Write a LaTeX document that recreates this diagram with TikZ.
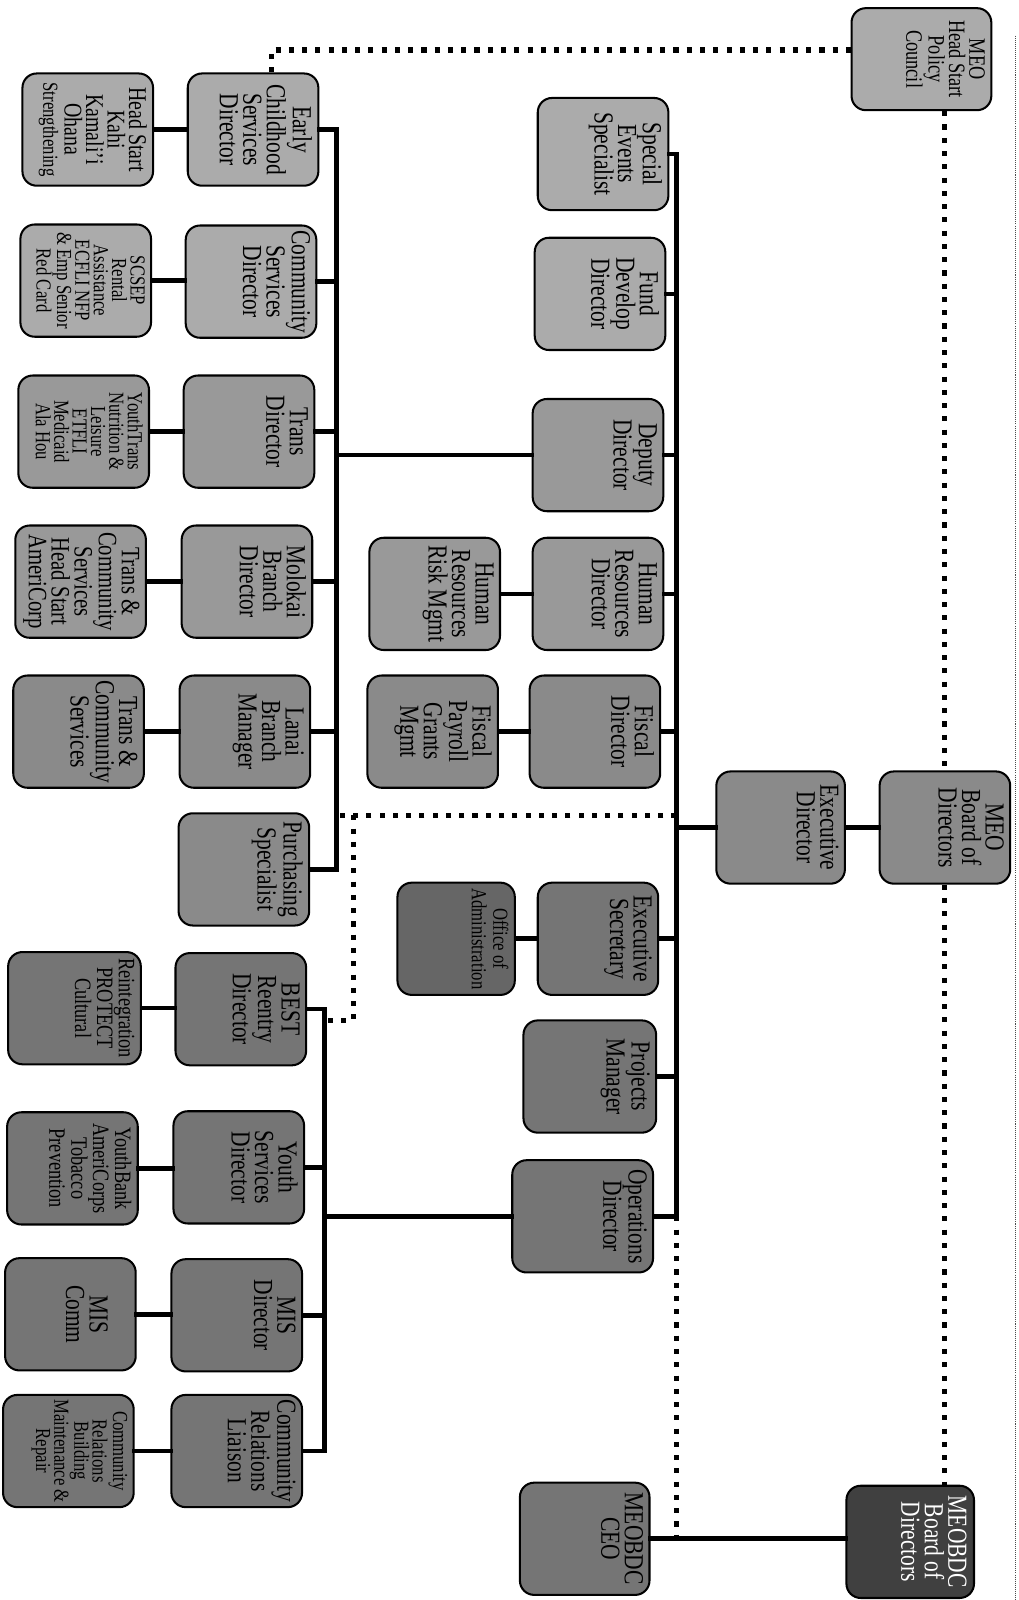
\documentclass[tikz,border=0pt]{standalone}
\usepackage{fontspec}
\setmainfont{Liberation Serif}[FakeStretch=0.78]
\newcommand\FsBig{\fontsize{27}{23}\selectfont}
\newcommand\FsMid{\fontsize{23}{21.5}\selectfont}
\newcommand\FsSmall{\fontsize{21}{18}\selectfont}
\colorlet{Lone}{black!33}
\colorlet{Ltwo}{black!40}
\colorlet{Lthree}{black!46}
\colorlet{Lfour}{black!54}
\colorlet{Lfive}{black!60}
\colorlet{Lsix}{black!75}
\tikzset{
  obox/.style={draw=black, line width=2pt, rounded corners=14pt, minimum height=110pt, inner sep=0pt},
  otext/.style={align=center, inner sep=0pt, font=\FsBig, anchor=north, rotate=-90},
  conn/.style={line width=4.5pt, line cap=rect},
  dotline/.style={line width=5pt, dash pattern=on 5pt off 8pt},
}
% #1 name, #2 x, #3 y, #4 width, #5 fill, #6 font, #7 text
\newcommand\OrgBox[7]{%
  \node[obox, minimum width=#4pt, fill=#5] (#1) at (#2,#3) {};
  \node[otext, font=#6] (#1t) at ([xshift=-7pt]#1.east) {#7};
}
\begin{document}
\begin{tikzpicture}[x=1pt,y=-1pt]
\useasboundingbox (0,0) rectangle (998,1568);
\fill[white] (0,0) rectangle (998,1568);

% ---- left column (units)
\OrgBox{A1}{86}{127}{128}{Lone}{\fontsize{25}{21}\selectfont}{Head Start\\Kahi\\Kamali'i\\Ohana\\{\fontsize{21}{18}\selectfont Strengthening}}
\OrgBox{A2}{84}{275}{128}{Lone}{\FsSmall}{SCSEP\\Rental\\Assistance\\ECFLI NFP\\\& Emp Senior\\Red Card}
\OrgBox{A3}{82}{423}{128}{Ltwo}{\FsSmall}{YouthTrans\\Nutrition \&\\Leisure\\ETFLI\\Medicaid\\Ala Hou}
\OrgBox{A4}{79}{570}{128}{Ltwo}{\fontsize{26}{22.5}\selectfont}{Trans \&\\Community\\Services\\Head Start\\AmeriCorp}
\OrgBox{A5}{77}{717}{128}{Lthree}{\FsBig}{Trans \&\\Community\\Services}
\OrgBox{A6}{73}{988}{130}{Lfour}{\FsMid}{Reintegration\\PROTECT\\Cultural}
\OrgBox{A7}{71}{1145}{128}{Lfour}{\FsMid}{YouthBank\\AmeriCorps\\Tobacco\\Prevention}
\node[obox, minimum width=128pt, fill=Lfour] (A8) at (69,1288) {};
\node[otext] (A8t) at ([xshift=-28pt]A8.east) {MIS\\Comm};
\OrgBox{A9}{67}{1422}{128}{Lfour}{\FsSmall}{Community\\Relations\\Building\\Maintenance \&\\Repair}

% ---- directors column
\OrgBox{B1}{248}{127}{128}{Lone}{\FsBig}{Early\\Childhood\\Services\\Director}
\OrgBox{B2}{246}{276}{128}{Lone}{\FsBig}{Community\\Services\\Director}
\OrgBox{B3}{244}{423}{128}{Ltwo}{\FsBig}{Trans\\Director}
\OrgBox{B4}{242}{570}{128}{Ltwo}{\FsBig}{Molokai\\Branch\\Director}
\OrgBox{B5}{240}{717}{128}{Lthree}{\FsBig}{Lanai\\Branch\\Manager}
\OrgBox{B6}{239}{852}{128}{Lthree}{\FsBig}{Purchasing\\Specialist}
\OrgBox{B7}{236}{989}{128}{Lfour}{\FsBig}{BEST\\Reentry\\Director}
\OrgBox{B8}{234}{1144}{128}{Lfour}{\FsBig}{Youth\\Services\\Director}
\OrgBox{B9}{232}{1289}{128}{Lfour}{\FsBig}{MIS\\Director}
\OrgBox{B10}{232}{1422}{128}{Lfour}{\FsBig}{Community\\Relations\\Liaison}

% ---- central columns
\OrgBox{C1}{591}{151}{128}{Lone}{\FsBig}{Special\\Events\\Specialist}
\OrgBox{C2}{588}{288}{128}{Lone}{\FsBig}{Fund\\Develop\\Director}
\OrgBox{C3}{586}{446}{128}{Ltwo}{\FsBig}{Deputy\\Director}
\OrgBox{C4}{586}{582}{128}{Ltwo}{\FsBig}{Human\\Resources\\Director}
\OrgBox{C5}{583}{717}{128}{Lthree}{\FsBig}{Fiscal\\Director}
\OrgBox{C6}{586}{920}{118}{Lfour}{\FsBig}{Executive\\Secretary}
\OrgBox{C7}{578}{1055}{130}{Lfour}{\FsBig}{Projects\\Manager}
\OrgBox{C8}{571}{1192}{138}{Lfour}{\FsBig}{Operations\\Director}
\OrgBox{C9}{573}{1508}{127}{Lfour}{\FsBig}{MEOBDC\\CEO}
\OrgBox{D1}{426}{582}{128}{Ltwo}{\FsBig}{Human\\Resources\\Risk Mgmt}
\OrgBox{D2}{424}{717}{128}{Lthree}{\FsBig}{Fiscal\\Payroll\\Grants\\Mgmt}
\OrgBox{D3}{447}{920}{115}{Lfive}{\fontsize{21}{21}\selectfont}{Office of\\Administration}

% ---- top of the chart
\OrgBox{ED}{765}{811}{126}{Lthree}{\FsBig}{Executive\\Director}
\OrgBox{MEOB}{926}{811}{128}{Lthree}{\FsBig}{MEO\\Board of\\Directors}
\node[obox, minimum width=137pt, minimum height=100pt, fill=Lone] (PC) at (903,58) {};
\node[otext, font=\fontsize{23}{20}\selectfont] (PCt) at ([xshift=-7pt]PC.east) {MEO\\Head Start\\Policy\\Council};
\node[obox, minimum width=125pt, fill=Lsix] (BDCB) at (892,1511) {};
\node[otext, text=white] (BDCBt) at ([xshift=-8pt]BDCB.east) {MEOBDC\\Board of\\Directors};

% ---- spines
\coordinate (sU) at (330,0);
\coordinate (sL) at (318,0);
\coordinate (sR) at (663,0);

% upper group
\foreach \n in {B1,B2,B3,B4,B5,B6} \draw[conn] (\n.east) -- (\n.east -| sU);
\draw[conn] (sU |- B1.east) -- (sU |- B6.east);
\foreach \a/\b in {A1/B1,A2/B2,A3/B3,A4/B4,A5/B5} \draw[conn] (\a.east) -- (\a.east -| \b.west);
\draw[conn] (C3.west) -- (C3.west -| sU);

% lower group
\foreach \n in {B7,B8,B9,B10} \draw[conn] (\n.east) -- (\n.east -| sL);
\draw[conn] (sL |- B7.east) -- (sL |- B10.east);
\foreach \a/\b in {A6/B7,A7/B8,A8/B9,A9/B10} \draw[conn] (\a.east) -- (\a.east -| \b.west);
\draw[conn] (C8.west) -- (C8.west -| sL);

% executive spine
\foreach \n in {C1,C2,C3,C4,C5,C6,C7,C8} \draw[conn] (\n.east) -- (\n.east -| sR);
\draw[conn] (sR |- C1.east) -- (sR |- C8.east);
\draw[conn] (D1.east) -- (D1.east -| C4.west);
\draw[conn] (D2.east) -- (D2.east -| C5.west);
\draw[conn] (D3.east) -- (D3.east -| C6.west);
\draw[conn] (ED.west) -- (ED.west -| sR);
\draw[conn] (ED.east) -- (ED.east -| MEOB.west);
\draw[conn] (C9.east) -- (C9.east -| BDCB.west);

% ---- dotted relations
\draw[dotline] ([xshift=18pt]B1.north) |- ([yshift=9pt]PC.west);
\draw[dotline] (MEOB.north |- PC.south) -- (MEOB.north);
\draw[dotline] (MEOB.south) -- (MEOB.south |- BDCB.north);
\draw[dotline] (sR |- C8.east) -- (sR |- C9.east);
\coordinate (dA) at (346,799);
\coordinate (dB) at (346,1000);
\draw[dotline] (sR |- dA) -- (sU |- dA);
\draw[dotline] (dA) -- (dB) -- (sL |- dB);

% thin page edge
\coordinate (eT) at (995,35);
\coordinate (eB) at (995,1568);
\draw[line width=0.8pt, black!70, dash pattern=on 1pt off 1pt] (eT) -- (eB);
\end{tikzpicture}
\end{document}
